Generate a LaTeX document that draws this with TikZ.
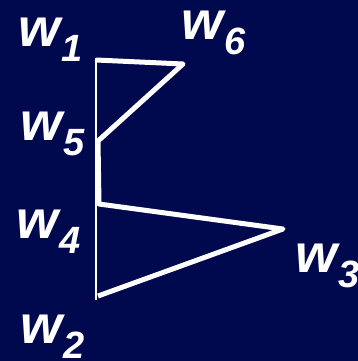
\documentclass[tikz,border=0pt]{standalone}
\usepackage{fontspec}
\setmainfont{Liberation Sans}
\definecolor{bg}{RGB}{0,8,78}
\newcommand{\wlab}[1]{\fontsize{54}{54}\selectfont\bfseries\itshape w\kern1pt\raisebox{-15pt}{\fontsize{38}{38}\selectfont #1}}
\begin{document}
\begin{tikzpicture}[x=1pt,y=-1pt,
  thin/.style={white,line width=2pt},
  thick/.style={white,line width=5pt,line join=round},
  lab/.style={text=white,inner sep=0pt,anchor=base west,text height=29pt,text depth=16pt}]
\fill[bg] (0,0) rectangle (358,361);
\useasboundingbox (0,0) rectangle (358,361);
\coordinate (v1) at (96,60);
\coordinate (v6) at (183,64);
\coordinate (v5) at (98,141);
\coordinate (v4) at (99,204);
\coordinate (v3) at (283,229);
\coordinate (v2) at (98,296);
\coordinate (top) at (96,58);
\coordinate (bot) at (96,300);
\draw[thin] (top) -- (bot);
\draw[thick] (v1) -- (v6) -- (v5) -- (v4) -- (v3) -- (v2);
\node[lab] (l1) at (18,47) {\wlab{1}};
\node[lab] (l6) at (181,40) {\wlab{6}};
\node[lab] (l5) at (20,140) {\wlab{5}};
\node[lab] (l4) at (16,238) {\wlab{4}};
\node[lab] (l3) at (295,272) {\wlab{3}};
\node[lab] (l2) at (20,343) {\wlab{2}};
\end{tikzpicture}
\end{document}
